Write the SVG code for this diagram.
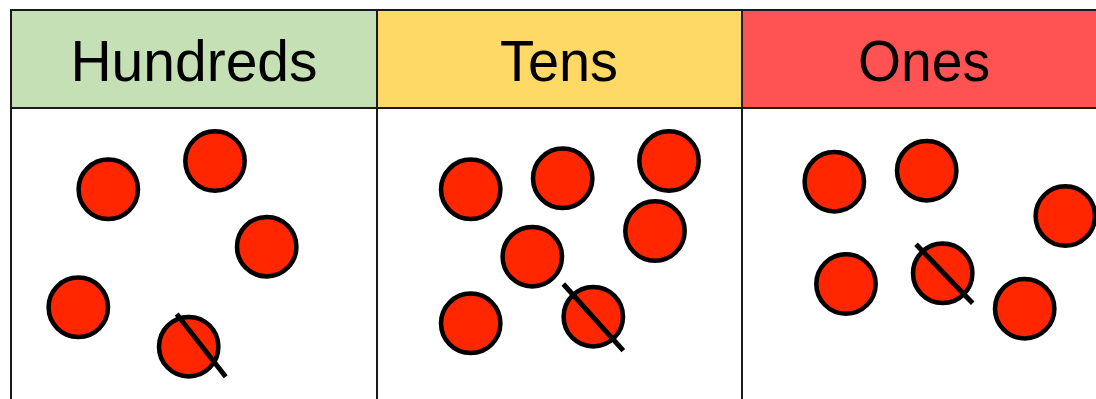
<svg xmlns="http://www.w3.org/2000/svg" width="1096" height="399" viewBox="0 0 1096 399">
<style>
.hdr{font-family:"Liberation Sans",Arial,sans-serif;font-size:57px;fill:#000;text-anchor:middle}
.dot{fill:#FF2600;stroke:#000;stroke-width:4.5}
.slash{stroke:#000;stroke-width:5}
.grid{stroke:#1a1a1a;stroke-width:2;fill:none}
</style>
<rect width="1096" height="399" fill="#fff"/>
<g id="header">
<rect x="11" y="10" width="366" height="98" fill="#C5E0B4"/>
<rect x="377" y="10" width="365" height="98" fill="#FFD966"/>
<rect x="742" y="10" width="354" height="98" fill="#FF5353"/>
<text class="hdr" x="194" y="81">Hundreds</text>
<text class="hdr" x="559" y="81" textLength="118" lengthAdjust="spacingAndGlyphs">Tens</text>
<text class="hdr" x="924" y="81" textLength="132" lengthAdjust="spacingAndGlyphs">Ones</text>
</g>
<g id="grid">
<line class="grid" x1="10" y1="10" x2="1096" y2="10"/>
<line class="grid" x1="10" y1="108" x2="1096" y2="108"/>
<line class="grid" x1="11" y1="9" x2="11" y2="399"/>
<line class="grid" x1="377" y1="9" x2="377" y2="399"/>
<line class="grid" x1="742" y1="9" x2="742" y2="399"/>
</g>
<g id="hundreds">
<circle class="dot" cx="108.3" cy="189.3" r="29.7"/>
<circle class="dot" cx="215" cy="161" r="29.7"/>
<circle class="dot" cx="266.7" cy="246.7" r="29.7"/>
<circle class="dot" cx="78.3" cy="307.3" r="29.7"/>
<circle class="dot" cx="188.7" cy="346.7" r="29.7"/>
<line class="slash" x1="176.7" y1="314" x2="225.7" y2="376.7"/>
</g>
<g id="tens">
<circle class="dot" cx="470.7" cy="189.3" r="29.7"/>
<circle class="dot" cx="562.7" cy="178.3" r="29.7"/>
<circle class="dot" cx="669" cy="161" r="29.7"/>
<circle class="dot" cx="655" cy="231" r="29.7"/>
<circle class="dot" cx="532.3" cy="256.7" r="29.7"/>
<circle class="dot" cx="470.7" cy="323.3" r="29.7"/>
<circle class="dot" cx="593.3" cy="316.7" r="29.7"/>
<line class="slash" x1="563.3" y1="284" x2="623.3" y2="350.7"/>
</g>
<g id="ones">
<circle class="dot" cx="834.3" cy="181.7" r="29.7"/>
<circle class="dot" cx="926.7" cy="170.7" r="29.7"/>
<circle class="dot" cx="1065.3" cy="216" r="29.7"/>
<circle class="dot" cx="846" cy="284" r="29.7"/>
<circle class="dot" cx="942.7" cy="273.3" r="29.7"/>
<circle class="dot" cx="1024.7" cy="308.7" r="29.7"/>
<line class="slash" x1="916" y1="244.3" x2="972.7" y2="303.3"/>
</g>
</svg>
